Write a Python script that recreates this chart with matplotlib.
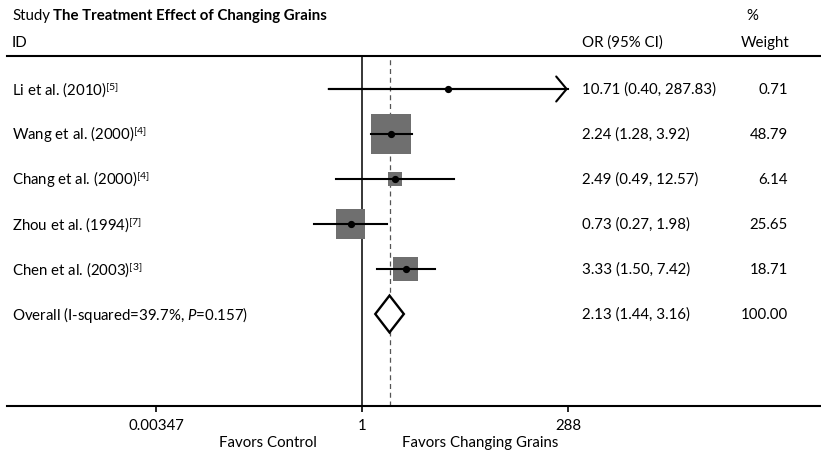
import numpy as np
import matplotlib
matplotlib.use("Agg")
import matplotlib.pyplot as plt
import matplotlib.transforms as mtransforms
from matplotlib.patches import Polygon

plt.rcParams['font.family'] = ['Lato', 'DejaVu Sans']
plt.rcParams['mathtext.fontset'] = 'custom'
plt.rcParams['mathtext.rm'] = 'Lato'
plt.rcParams['mathtext.it'] = 'Lato:italic'
plt.rcParams['mathtext.bf'] = 'Lato:bold'

# ---- data ----
studies = ["Li et al. (2010)$^{\\mathrm{[5]}}$",
           "Wang et al. (2000)$^{\\mathrm{[4]}}$",
           "Chang et al. (2000)$^{\\mathrm{[4]}}$",
           "Zhou et al. (1994)$^{\\mathrm{[7]}}$",
           "Chen et al. (2003)$^{\\mathrm{[3]}}$"]
or_vals = [10.71, 2.24, 2.49, 0.73, 3.33]
ci_low = [0.40, 1.28, 0.49, 0.27, 1.50]
ci_high = [287.83, 3.92, 12.57, 1.98, 7.42]
weights = [0.71, 48.79, 6.14, 25.65, 18.71]
overall_label = "Overall (I-squared=39.7%, $\\mathit{P}$=0.157)"
overall_or = 2.13
overall_low = 1.44
overall_high = 3.16
overall_weight = 100.00
xticks = [0.00347, 1, 288]
xtick_labels = ["0.00347", "1", "288"]

W, H = 821, 456
fig = plt.figure(figsize=(W / 100, H / 100), dpi=100)
FS = 10.8

def fx(px):
    return px / W

def fy(py):
    return 1 - py / H

ax = fig.add_axes([fx(7), fy(407), 1 - fx(7), (407 - 57) / H])
ax.set_xscale('log')
px_per_ln = 206 / np.log(288)
xmin = np.exp((7 - 362) / px_per_ln)
xmax = np.exp((821 - 362) / px_per_ln)
ax.set_xlim(xmin, xmax)
ax.set_ylim(1 + (407 - 90) / 45, 1 - 33 / 45)

for s in ['left', 'right']:
    ax.spines[s].set_visible(False)
for s in ['top', 'bottom']:
    ax.spines[s].set_linewidth(1.5)
ax.set_yticks([])
ax.set_xticks(xticks)
ax.set_xticklabels(xtick_labels, fontsize=FS)
ax.minorticks_off()
ax.tick_params(axis='x', direction='out', length=4, width=1.2, pad=5)

n = len(studies)
ys = np.arange(1, n + 1)

ax.axvline(1, color='black', lw=1.1, zorder=1)
ax.axvline(overall_or, color='#555555', lw=0.9, ls=(0, (4, 3)), zorder=1)

ax.scatter(or_vals, ys, marker='s', s=np.array(weights) * 17.0,
           color='#6f6f6f', edgecolors='none', zorder=2)
for i in range(n):
    ax.plot([ci_low[i], ci_high[i]], [ys[i], ys[i]], color='black', lw=1.5, zorder=3)
    if i == 0:
        ax.annotate('', xy=(ci_high[i], ys[i]), xytext=(ci_low[i], ys[i]),
                    arrowprops=dict(arrowstyle='->,head_length=0.75,head_width=0.9',
                                    lw=1.5, color='black', shrinkA=0, shrinkB=0,
                                    mutation_scale=10), zorder=3)
ax.plot(or_vals, ys, 'o', color='black', ms=4.2, zorder=4)

yo = n + 1
h = 0.41
diamond = Polygon([(overall_low, yo), (overall_or, yo - h), (overall_high, yo),
                   (overall_or, yo + h)], closed=True, facecolor='white',
                  edgecolor='black', lw=1.7, zorder=3)
ax.add_patch(diamond)

trans = mtransforms.blended_transform_factory(fig.transFigure, ax.transData)
labels = studies + [overall_label]
ors = list(zip(or_vals, ci_low, ci_high)) + [(overall_or, overall_low, overall_high)]
wts = weights + [overall_weight]
for i in range(n + 1):
    y = i + 1
    ax.text(fx(12), y, labels[i], transform=trans, ha='left', va='center', fontsize=FS)
    o, l, u = ors[i]
    ax.text(fx(582), y, f"{o:.2f} ({l:.2f}, {u:.2f})", transform=trans,
            ha='left', va='center', fontsize=FS)
    ax.text(fx(788), y, f"{wts[i]:.2f}", transform=trans, ha='right',
            va='center', fontsize=FS)

# headers
fig.text(fx(12), fy(16), "Study", ha='left', va='center', fontsize=FS)
fig.text(fx(53), fy(16), "The Treatment Effect of Changing Grains", ha='left',
         va='center', fontsize=FS, fontweight='bold')
fig.text(fx(12), fy(43), "ID", ha='left', va='center', fontsize=FS)
fig.text(fx(582), fy(43), "OR (95% CI)", ha='left', va='center', fontsize=FS)
fig.text(fx(746), fy(16), "%", ha='left', va='center', fontsize=FS)
fig.text(fx(790), fy(43), "Weight", ha='right', va='center', fontsize=FS)

fig.text(fx(268), fy(443), "Favors Control", ha='center', va='center', fontsize=FS)
fig.text(fx(480), fy(443), "Favors Changing Grains", ha='center', va='center', fontsize=FS)

fig.savefig("out.png", dpi=100)
